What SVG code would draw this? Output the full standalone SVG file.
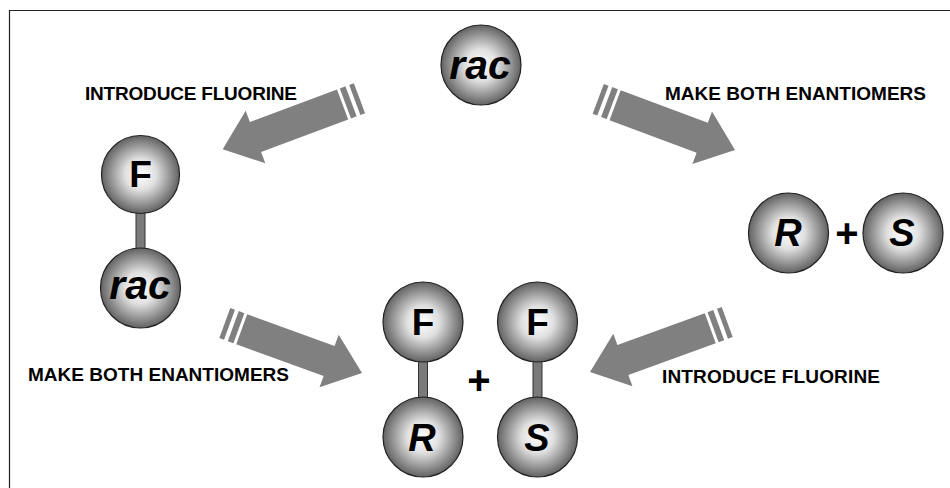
<svg xmlns="http://www.w3.org/2000/svg" width="950" height="488" viewBox="0 0 950 488">
<defs>
<radialGradient id="ball" cx="50%" cy="50%" r="50%">
<stop offset="0" stop-color="#ffffff"/>
<stop offset="0.4" stop-color="#e0e0e0"/>
<stop offset="1" stop-color="#626262"/>
</radialGradient>
<g id="arrow">
<polygon points="0,0 -35,-28 -35,-16 -128,-16 -128,16 -35,16 -35,28"/>
<rect x="-137" y="-16" width="6" height="32"/>
<rect x="-146" y="-16" width="5" height="32"/>
</g>
</defs>
<style>
.ball{fill:url(#ball);stroke:#222;stroke-width:1.2}
.bond{fill:#7a7a7a;stroke:#333;stroke-width:1}
.lbl{font-family:"Liberation Sans",Arial,sans-serif;font-weight:bold;font-size:19px;fill:#000}
.sym{font-family:"Liberation Sans",Arial,sans-serif;font-weight:bold;fill:#000;text-anchor:middle}
.it{font-style:italic}
.arr{fill:#808080}
</style>
<rect width="950" height="488" fill="#fff"/>
<path d="M9.5,488 V10.5 H950" fill="none" stroke="#222" stroke-width="1.2"/>

<g id="connectors" class="arr">
<use href="#arrow" transform="translate(222.7,149.3) rotate(159.5)"/>
<use href="#arrow" transform="translate(735,150) rotate(20.5)"/>
<use href="#arrow" transform="translate(362,373) rotate(20)"/>
<use href="#arrow" transform="translate(590,372) rotate(160)"/>
</g>

<g id="labels">
<text class="lbl" x="85" y="100" textLength="212">INTRODUCE FLUORINE</text>
<text class="lbl" x="665" y="100" textLength="261">MAKE BOTH ENANTIOMERS</text>
<text class="lbl" x="28" y="381" textLength="261">MAKE BOTH ENANTIOMERS</text>
<text class="lbl" x="662" y="383" textLength="218">INTRODUCE FLUORINE</text>
</g>

<g id="rac-top">
<circle class="ball" cx="481" cy="65" r="40"/>
<text class="sym it" x="480" y="79" font-size="41">rac</text>
</g>

<g id="F-rac">
<rect class="bond" x="136" y="208" width="9" height="46"/>
<circle class="ball" cx="140.5" cy="174.5" r="39"/>
<text class="sym" x="140.5" y="187" font-size="37">F</text>
<circle class="ball" cx="140.5" cy="288" r="40"/>
<text class="sym it" x="140" y="299" font-size="41">rac</text>
</g>

<g id="R-plus-S">
<circle class="ball" cx="788.5" cy="233" r="40"/>
<text class="sym it" x="788" y="246" font-size="38">R</text>
<text class="sym" x="847" y="247" font-size="40">+</text>
<circle class="ball" cx="903" cy="233" r="40"/>
<text class="sym it" x="902" y="246" font-size="38">S</text>
</g>

<g id="F-R">
<rect class="bond" x="418.5" y="356" width="9" height="46"/>
<circle class="ball" cx="423" cy="322" r="40"/>
<text class="sym" x="423" y="335" font-size="37">F</text>
<circle class="ball" cx="423" cy="437" r="40"/>
<text class="sym it" x="422" y="451" font-size="38">R</text>
</g>

<text class="sym" x="479" y="394" font-size="40">+</text>

<g id="F-S">
<rect class="bond" x="533" y="356" width="9" height="46"/>
<circle class="ball" cx="537.5" cy="322" r="40"/>
<text class="sym" x="537.5" y="335" font-size="37">F</text>
<circle class="ball" cx="537.5" cy="437" r="40"/>
<text class="sym it" x="537" y="451" font-size="38">S</text>
</g>
</svg>
